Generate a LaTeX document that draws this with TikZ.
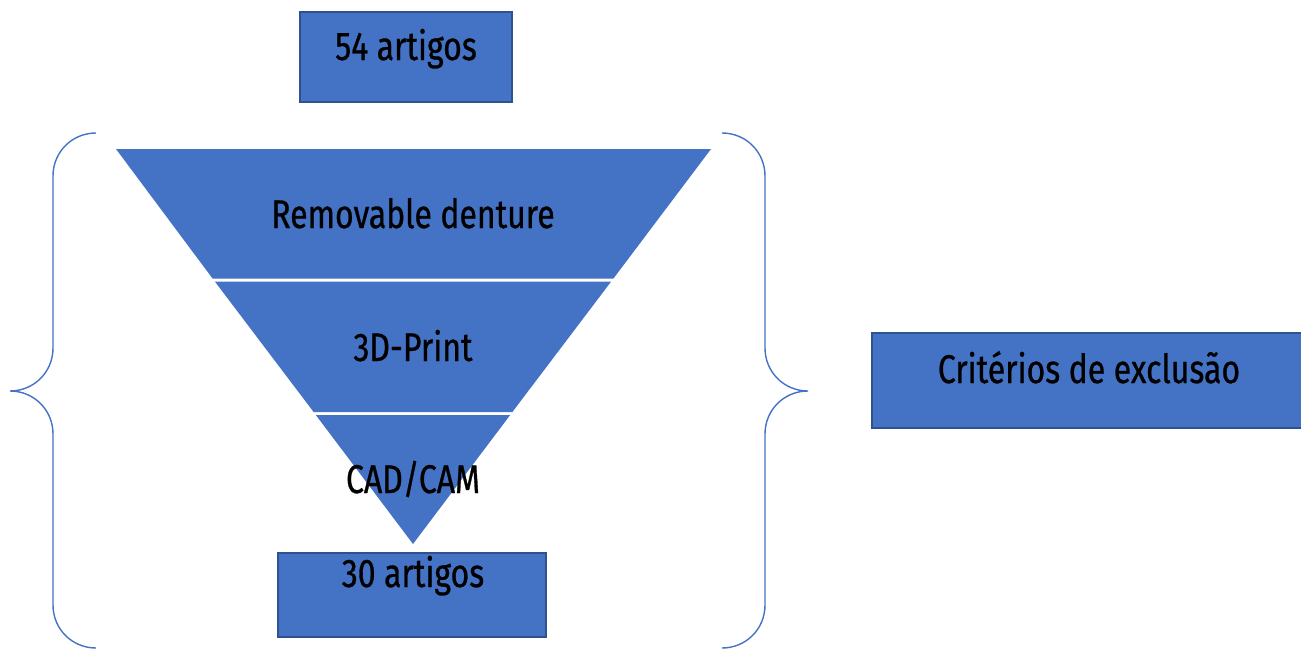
\documentclass[tikz,border=0pt]{standalone}
\usepackage{fontspec}
\setmainfont[FakeStretch=0.80,FakeBold=0.7,UprightFeatures={FakeBold=0.7}]{Fira Sans}
\definecolor{boxblue}{HTML}{4472C4}
\definecolor{boxedge}{HTML}{2F528F}
\begin{document}
\begin{tikzpicture}[x=1pt,y=-1pt,
  box/.style={draw=boxedge,line width=1.8pt,fill=boxblue},
  band/.style={fill=boxblue,draw=none},
  lbl/.style={anchor=base,inner sep=0pt,text=black,font=\fontsize{40}{48}\selectfont},
  brace/.style={draw=boxblue,line width=1.4pt}]
\useasboundingbox (0,0) rectangle (1301,648);
% boxes
\draw[box] (300,12) rectangle (512,102);
\node[lbl] (top) at (406,60) {54 artigos};
\draw[box] (278,553) rectangle (546,637);
\node[lbl] (bot) at (413,587) {30 artigos};
\draw[box] (872,333) rectangle (1303,428);
\node[lbl] (crit) at (1089,383) {Critérios de exclusão};
% funnel bands
\fill[band] (116,149) -- (711,149) -- (613.3,278.7) -- (212.7,278.7) -- cycle;
\fill[band] (214.9,281.6) -- (611.1,281.6) -- (512.3,412.1) -- (313.7,412.1) -- cycle;
\fill[band] (315.9,415.1) -- (510.1,415.1) -- (413,544) -- cycle;
\node[lbl] (r1) at (413,228) {Removable denture};
\node[lbl] (r2) at (413,361) {3D-Print};
\node[lbl] (r3) at (413,493) {CAD/CAM};
% braces
\draw[brace] (96,133) .. controls (72,133) and (53,152) .. (53,176) -- (53,348)
  .. controls (53,372) and (34,391) .. (10,391)
  .. controls (34,391) and (53,410) .. (53,434) -- (53,605)
  .. controls (53,629) and (72,648) .. (96,648);
\draw[brace] (722,133) .. controls (746,133) and (765,152) .. (765,176) -- (765,348)
  .. controls (765,372) and (784,391) .. (808,391)
  .. controls (784,391) and (765,410) .. (765,434) -- (765,605)
  .. controls (765,629) and (746,648) .. (722,648);
\end{tikzpicture}
\end{document}
